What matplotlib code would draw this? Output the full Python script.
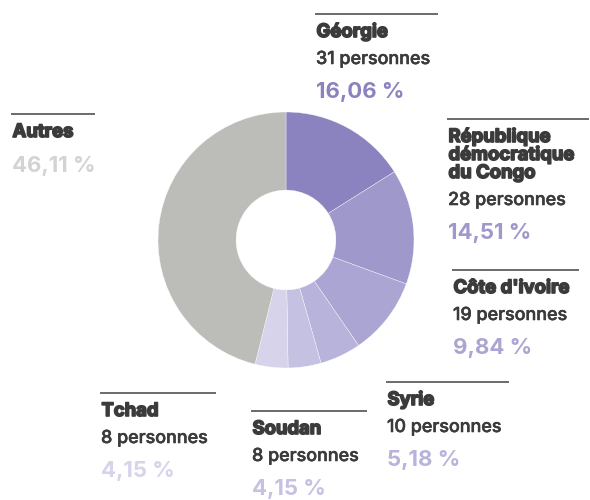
import matplotlib.pyplot as plt
import matplotlib.patheffects as pe

# share of people by country, clockwise from the top of the ring
countries = [['Géorgie'], ['République', 'démocratique', 'du Congo'], ["Côte d'ivoire"],
             ['Syrie'], ['Soudan'], ['Tchad'], ['Autres']]
persons = [31, 28, 19, 10, 8, 8, None]
shares = [16.06, 14.51, 9.84, 5.18, 4.15, 4.15, 46.11]
colors = ['#8a83bf', '#9f98cb', '#aba5d4', '#b8b3db', '#c5c1e3', '#d6d3eb', '#bcbdb8']
pct_colors = ['#8a83bf', '#9f98cb', '#aba5d4', '#b8b3db', '#c5c1e3', '#d6d3eb', '#d3d3d1']

# label anchors (x left, y of the rule) in pixels
label_x = [316, 448, 453, 387, 252, 101, 12]
rule_y = [14, 119, 270, 382, 411, 393, 114]
rule_w = [121, 140, 125, 121, 114, 114, 82]

FONT = 'Inter'
DARK = '#3b3b3b'

fig = plt.figure(figsize=(5.9, 5.0), dpi=100)
ax = fig.add_axes([0, 0, 1, 1])

ax.pie(shares, colors=colors, startangle=-90, counterclock=True,
       center=(286, 240), radius=128, frame=True,
       wedgeprops=dict(width=128 * 0.61, edgecolor='white', linewidth=0.25))
ax.set_xlim(0, 590)
ax.set_ylim(500, 0)
ax.set_aspect('equal')
ax.axis('off')

heavy = [pe.withStroke(linewidth=1.2, foreground=DARK)]
medium = [pe.withStroke(linewidth=0.4, foreground=DARK)]

for i in range(len(countries)):
    x, y0 = label_x[i], rule_y[i]
    ax.plot([x, x + rule_w[i]], [y0, y0], color='#6a6a6a', lw=1.4)
    y = y0 + 23
    for j, line in enumerate(countries[i]):
        ax.text(x + 0.5, y + 18 * j, line, fontsize=13.3, fontweight='bold', family=FONT,
                color=DARK, va='baseline', ha='left', path_effects=heavy)
    y += 18 * (len(countries[i]) - 1) + 27
    if persons[i] is not None:
        ax.text(x, y, f'{persons[i]} personnes', fontsize=12.9, fontweight='medium',
                family=FONT, color=DARK, va='baseline', ha='left', path_effects=medium)
        y += 34
    else:
        y += 8
    ax.text(x, y, f'{shares[i]:.2f} %'.replace('.', ','), fontsize=16,
            fontweight='bold', family=FONT, color=pct_colors[i],
            va='baseline', ha='left')

fig.savefig('out.png', dpi=100)
